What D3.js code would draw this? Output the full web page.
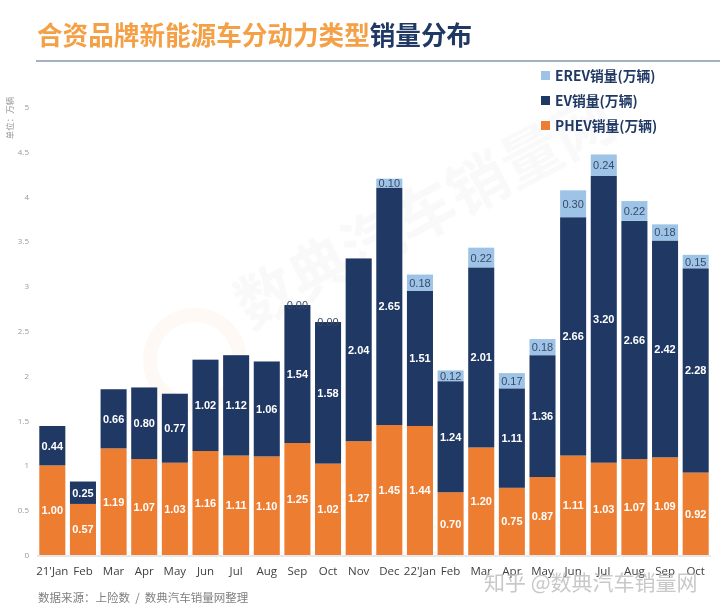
<!DOCTYPE html>
<html><head><meta charset="utf-8">
<script src="https://cdn.jsdelivr.net/npm/d3@7"></script>
<style>body{margin:0;background:#fff;}svg{display:block;}</style>
</head><body>
<svg id="c" width="720" height="613"></svg>
<script>
const categories = ["21'Jan","Feb","Mar","Apr","May","Jun","Jul","Aug","Sep","Oct","Nov","Dec","22'Jan","Feb","Mar","Apr","May","Jun","Jul","Aug","Sep","Oct"];
const phev = [1.00,0.57,1.19,1.07,1.03,1.16,1.11,1.10,1.25,1.02,1.27,1.45,1.44,0.70,1.20,0.75,0.87,1.11,1.03,1.07,1.09,0.92];
const ev   = [0.44,0.25,0.66,0.80,0.77,1.02,1.12,1.06,1.54,1.58,2.04,2.65,1.51,1.24,2.01,1.11,1.36,2.66,3.20,2.66,2.42,2.28];
const erev = [null,null,null,null,null,null,null,null,0.00,0.00,null,0.10,0.18,0.12,0.22,0.17,0.18,0.30,0.24,0.22,0.18,0.15];
const yTicks = [0,0.5,1,1.5,2,2.5,3,3.5,4,4.5,5];
const seriesNames = ["EREV销量(万辆)","EV销量(万辆)","PHEV销量(万辆)"];

const colors = {phev:"#ED7D31", ev:"#203864", erev:"#9DC3E6"};
const svg = d3.select("#c");
const x = d3.scaleBand().domain(d3.range(categories.length)).range([37,711]).paddingInner(0.15).paddingOuter(0.075);
const y = d3.scaleLinear().domain([0,5]).range([555,107]);

// watermark
const wm = svg.append("g").attr("opacity",0.05);
wm.append("text").attr("transform","translate(250,330) rotate(-28)")
  .attr("font-family","Noto Sans CJK SC").attr("font-weight","bold").attr("font-size",60)
  .attr("fill","#888").text("数典汽车销量网");
wm.append("circle").attr("cx",195).attr("cy",360).attr("r",45).attr("fill","none").attr("stroke","#f08030").attr("stroke-width",14);

// title
const title = svg.append("text").attr("x",37).attr("y",45)
  .attr("font-family","Noto Sans CJK SC").attr("font-weight","bold").attr("font-size",25.6);
title.append("tspan").attr("fill","#F4A046").text("合资品牌新能源车分动力类型");
title.append("tspan").attr("fill","#1F3864").text("销量分布");
svg.append("line").attr("x1",36).attr("x2",720).attr("y1",61).attr("y2",61).attr("stroke","#8497B0").attr("stroke-width",1.5);

// y axis
svg.append("g").selectAll("text").data(yTicks).join("text")
  .attr("x",29).attr("y",d=>y(d)+3).attr("text-anchor","end")
  .attr("font-family","Open Sans").attr("font-size",8).attr("fill","#999").text(d=>d);
svg.append("text").attr("transform","translate(13,118) rotate(-90)").attr("text-anchor","middle")
  .attr("font-family","Noto Sans CJK SC").attr("font-size",8.5).attr("fill","#999").text("单位：万辆");

// baseline
svg.append("line").attr("x1",37).attr("x2",711).attr("y1",y(0)+1).attr("y2",y(0)+1).attr("stroke","#e0e0e0").attr("stroke-width",1.5);

// bars
const bw = x.bandwidth();
const g = svg.append("g");
categories.forEach((c,i)=>{
  const p = phev[i], e = ev[i], r = erev[i] || 0;
  g.append("rect").attr("x",x(i)).attr("width",bw).attr("y",y(p)).attr("height",y(0)-y(p)).attr("fill",colors.phev);
  g.append("rect").attr("x",x(i)).attr("width",bw).attr("y",y(p+e)).attr("height",y(p)-y(p+e)).attr("fill",colors.ev);
  if (r>0) g.append("rect").attr("x",x(i)).attr("width",bw).attr("y",y(p+e+r)).attr("height",y(p+e)-y(p+e+r)).attr("fill",colors.erev);
  const cx = x(i)+bw/2;
  g.append("text").attr("x",cx).attr("y",(y(0)+y(p))/2+4).attr("text-anchor","middle")
    .attr("font-family","Liberation Sans").attr("font-weight","bold").attr("font-size",11).attr("fill","#fff").text(p.toFixed(2));
  g.append("text").attr("x",cx).attr("y",(y(p)+y(p+e))/2+4).attr("text-anchor","middle")
    .attr("font-family","Liberation Sans").attr("font-weight","bold").attr("font-size",11).attr("fill","#fff").text(e.toFixed(2));
  if (erev[i]!==null) {
    const yc = r>0 ? (y(p+e)+y(p+e+r))/2 : y(p+e);
    g.append("text").attr("x",cx).attr("y",yc+4).attr("text-anchor","middle")
      .attr("font-family","Liberation Sans").attr("font-size",11).attr("fill","#3A4A68").text(erev[i].toFixed(2));
  }
});

// x labels
svg.append("g").selectAll("text").data(categories).join("text")
  .attr("x",(d,i)=>x(i)+bw/2).attr("y",575).attr("text-anchor","middle")
  .attr("font-family","Open Sans").attr("font-size",11.5).attr("fill","#404040").text(d=>d);

// legend
const lc = [colors.erev, colors.ev, colors.phev];
seriesNames.forEach((n,i)=>{
  const ly = 76 + i*25;
  svg.append("rect").attr("x",541).attr("y",ly-5).attr("width",9).attr("height",9).attr("fill",lc[i]);
  svg.append("text").attr("x",555).attr("y",ly+5).attr("font-family","Noto Sans CJK SC").attr("font-weight","bold")
    .attr("font-size",13.8).attr("fill","#1F3864").text(n);
});

// footer
svg.append("text").attr("x",38).attr("y",602).attr("font-family","Noto Sans CJK SC").attr("font-size",11.5).attr("fill","#7f7f7f")
  .text("数据来源：上险数 \u00a0/ \u00a0数典汽车销量网整理");
svg.append("text").attr("x",484).attr("y",590).attr("font-family","Noto Sans CJK SC").attr("font-size",21).attr("fill","#bbb").attr("opacity",0.8)
  .text("知乎 @数典汽车销量网");
</script>
</body></html>
